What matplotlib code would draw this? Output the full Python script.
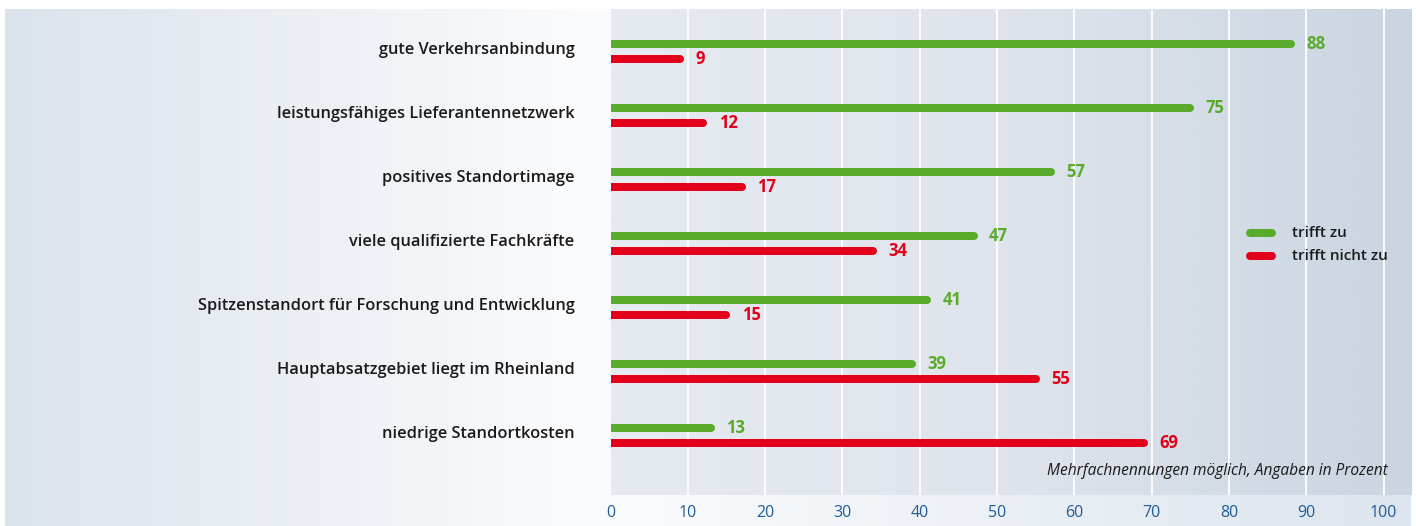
import numpy as np
import matplotlib
matplotlib.use("Agg")
import matplotlib.pyplot as plt
from matplotlib.colors import LinearSegmentedColormap

# data
categories = [
    "gute Verkehrsanbindung",
    "leistungsfähiges Lieferantennetzwerk",
    "positives Standortimage",
    "viele qualifizierte Fachkräfte",
    "Spitzenstandort für Forschung und Entwicklung",
    "Hauptabsatzgebiet liegt im Rheinland",
    "niedrige Standortkosten",
]
trifft_zu = [88, 75, 57, 47, 41, 39, 13]
trifft_nicht_zu = [9, 12, 17, 34, 15, 55, 69]
ticks = [0, 10, 20, 30, 40, 50, 60, 70, 80, 90, 100]

GREEN = "#5aab2b"
RED = "#e2001a"
TICK_BLUE = "#1f5c99"
W, H = 1416, 526

plt.rcParams['font.family'] = ['Open Sans', 'DejaVu Sans']

fig = plt.figure(figsize=(W / 100, H / 100), dpi=100)
fig.patch.set_facecolor("white")

# outer background gradient
bg = fig.add_axes([0, 0, 1, 1], zorder=0)
bg.set_xlim(0, W)
bg.set_ylim(H, 0)
bg.axis("off")
outer = LinearSegmentedColormap.from_list(
    "outer", [(0, "#dbe3ec"), (0.42, "#fbfcfd"), (1, "#dce4ed")])
grad = np.linspace(0, 1, 512).reshape(1, -1)
bg.imshow(grad, cmap=outer, aspect="auto", extent=(5, 1411, H, 9))

# plot area
x0, x1, ytop, ybot = 610.5, 1411, 9, 495
xmax = (x1 - x0) / 7.73
ax = fig.add_axes([x0 / W, (H - ybot) / H, (x1 - x0) / W, (ybot - ytop) / H], zorder=1)
ax.set_xlim(0, xmax)
ax.set_ylim(6.93, -0.664)
inner = LinearSegmentedColormap.from_list("inner", ["#e6eaf1", "#dfe4ec", "#cad5e1"])
ax.imshow(grad, cmap=inner, aspect="auto", extent=(0, xmax, 6.93, -0.664), zorder=0)
for t in ticks[1:]:
    ax.axvline(t, color="white", lw=1.3, zorder=1)

off = 7.5 / 64
lw = 8 * 72 / 100
for i, (g, r) in enumerate(zip(trifft_zu, trifft_nicht_zu)):
    ax.plot([0, g], [i - off, i - off], color=GREEN, lw=lw, solid_capstyle="round", zorder=3)
    ax.plot([0, r], [i + off, i + off], color=RED, lw=lw, solid_capstyle="round", zorder=3)
    ax.annotate(str(g), (g, i - off), xytext=(11, 0), textcoords="offset points",
                color=GREEN, fontsize=12, fontweight="bold", va="center", ha="left")
    ax.annotate(str(r), (r, i + off), xytext=(11, 0), textcoords="offset points",
                color=RED, fontsize=12, fontweight="bold", va="center", ha="left")
    ax.annotate(categories[i], (0, i - 0.03), xytext=(-26, 0), textcoords="offset points",
                color="#1a1a1a", fontsize=11.8, fontweight="semibold", va="center", ha="right")

for s in ax.spines.values():
    s.set_visible(False)
ax.set_yticks([])
ax.set_xticks(ticks)
ax.set_xticklabels([str(t) for t in ticks])
ax.tick_params(axis="x", length=0, pad=7, labelsize=11.5, labelcolor=TICK_BLUE)
for lab in ax.get_xticklabels():
    lab.set_fontweight("medium")

# legend
lx = (1250 - x0) / 7.73
lx2 = (1272 - x0) / 7.73
for k, (col, name) in enumerate([(GREEN, "trifft zu"), (RED, "trifft nicht zu")]):
    yy = 2.83 + k * 0.36
    ax.plot([lx, lx2], [yy, yy], color=col, lw=lw, solid_capstyle="round", zorder=3)
    ax.text((1292 - x0) / 7.73, yy, name, color="#1a1a1a", fontsize=11,
            fontweight="semibold", va="center", ha="left")

ax.text(100.5, 6.55, "Mehrfachnennungen möglich, Angaben in Prozent", color="#1a1a1a",
        fontsize=11.2, style="italic", va="center", ha="right")

fig.savefig("out.png", dpi=100)
